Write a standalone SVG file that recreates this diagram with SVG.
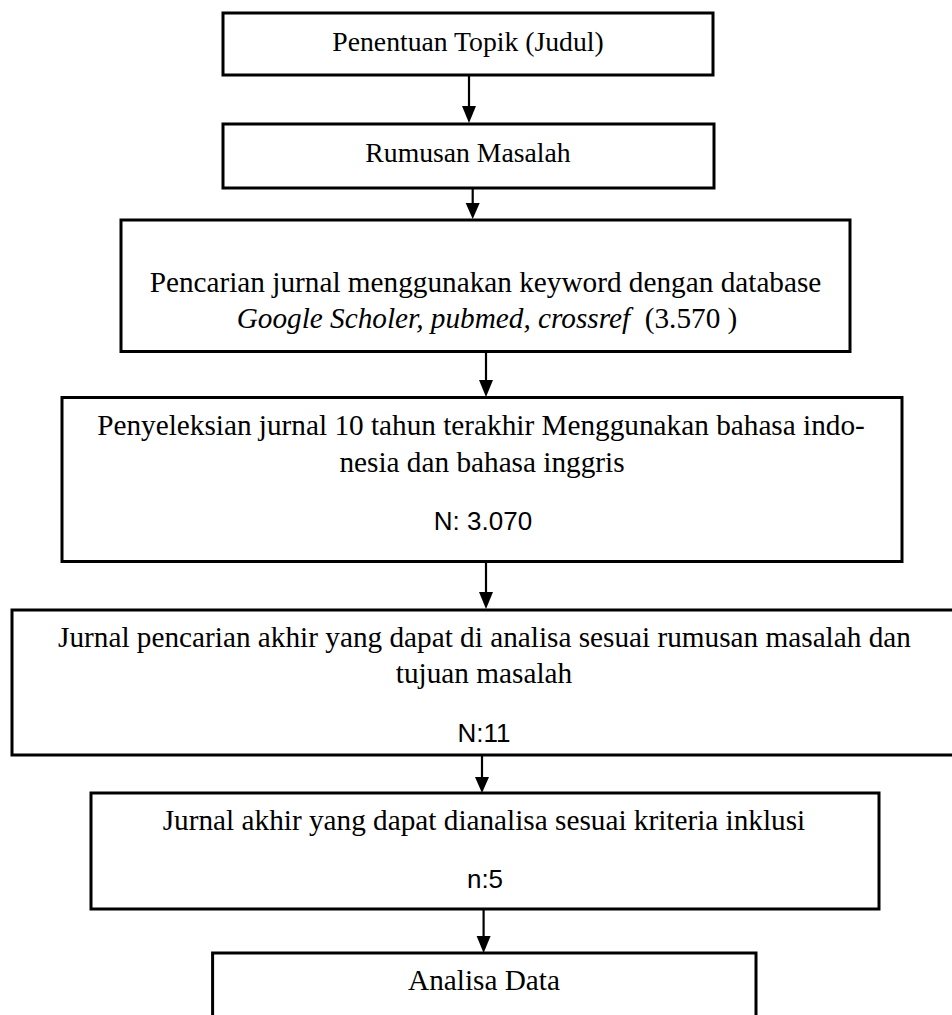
<svg xmlns="http://www.w3.org/2000/svg" width="952" height="1015" viewBox="0 0 952 1015">
<defs>
<style>
.box{fill:#fff;stroke:#000;stroke-width:3}
.t{font-family:"Liberation Serif","Times New Roman",serif;font-size:27.7px;fill:#000;text-anchor:middle}
.tb{font-family:"Liberation Serif","Times New Roman",serif;font-size:29.25px;fill:#000;text-anchor:middle}
.s{font-family:"Liberation Sans",Arial,sans-serif;font-size:26px;fill:#000;text-anchor:middle}
.c{stroke:#000;stroke-width:2.2;fill:none}
.h{fill:#000}
</style>
</defs>
<rect width="952" height="1015" fill="#fff"/>
<g id="connectors">
<line class="c" x1="469" y1="75" x2="469" y2="110"/>
<polygon class="h" points="462,106 476,106 469,123"/>
<line class="c" x1="472.7" y1="188" x2="472.7" y2="206"/>
<polygon class="h" points="465.7,203 479.7,203 472.7,219"/>
<line class="c" x1="486" y1="351.5" x2="486" y2="384"/>
<polygon class="h" points="479,380 493,380 486,397"/>
<line class="c" x1="486" y1="561" x2="486" y2="596"/>
<polygon class="h" points="479,592 493,592 486,609"/>
<line class="c" x1="482" y1="755.5" x2="482" y2="781"/>
<polygon class="h" points="475,777 489,777 482,793"/>
<line class="c" x1="483.6" y1="909" x2="483.6" y2="940"/>
<polygon class="h" points="476.6,936 490.6,936 483.6,953"/>
</g>
<g id="n1">
<rect class="box" x="223" y="13" width="490" height="62"/>
<text class="t" x="468" y="51">Penentuan Topik (Judul)</text>
</g>
<g id="n2">
<rect class="box" x="223" y="124" width="491" height="64"/>
<text class="t" x="468" y="162">Rumusan Masalah</text>
</g>
<g id="n3">
<rect class="box" x="121" y="220" width="729" height="131.5"/>
<text class="tb" x="485.5" y="292">Pencarian jurnal menggunakan keyword dengan database</text>
<text class="tb" x="487" y="328"><tspan font-style="italic">Google Scholer, pubmed, crossref</tspan><tspan xml:space="preserve">  (3.570 )</tspan></text>
</g>
<g id="n4">
<rect class="box" x="62" y="397.5" width="840" height="164"/>
<text class="tb" x="481" y="435">Penyeleksian jurnal 10 tahun terakhir Menggunakan bahasa indo-</text>
<text class="tb" x="482" y="472">nesia dan bahasa inggris</text>
<text class="s" x="483" y="530">N: 3.070</text>
</g>
<g id="n5">
<rect class="box" x="12" y="610" width="946" height="145"/>
<text class="tb" x="484.5" y="647">Jurnal pencarian akhir yang dapat di analisa sesuai rumusan masalah dan</text>
<text class="tb" x="484" y="683">tujuan masalah</text>
<text class="s" x="484" y="742">N:11</text>
</g>
<g id="n6">
<rect class="box" x="91" y="793" width="788" height="116"/>
<text class="tb" x="484" y="830">Jurnal akhir yang dapat dianalisa sesuai kriteria inklusi</text>
<text class="s" x="485" y="888">n:5</text>
</g>
<g id="n7">
<rect class="box" x="212.6" y="953" width="543.4" height="90"/>
<text class="tb" x="484" y="990">Analisa Data</text>
</g>
</svg>
